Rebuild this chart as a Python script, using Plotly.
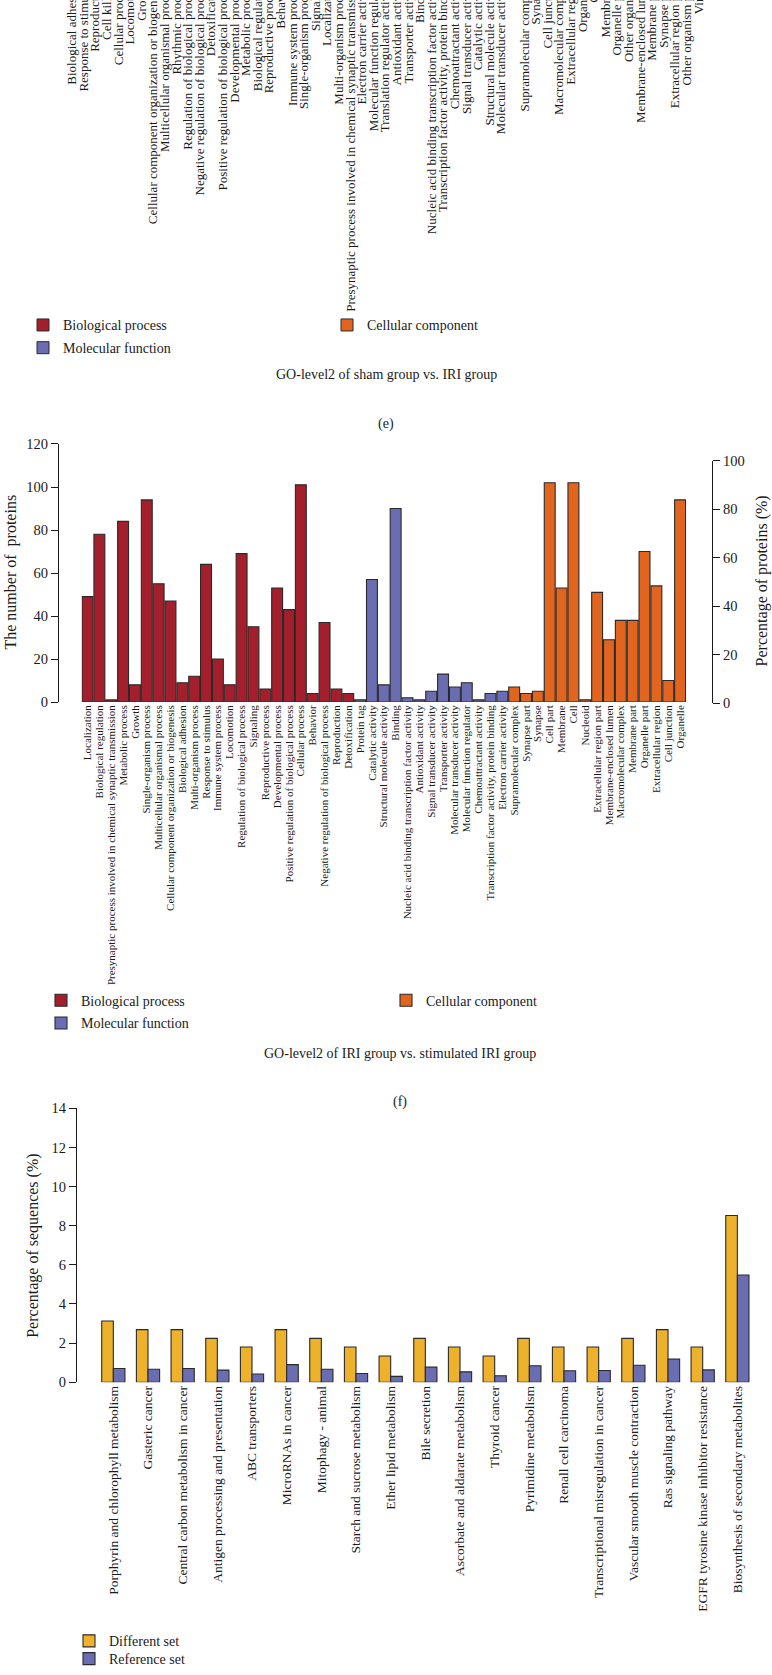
import plotly.graph_objects as go

FIG_W, FIG_H = 772, 1675


def py(y):
    return 1 - y / FIG_H


def pxx(x):
    return x / FIG_W


# ---------------- (e) GO-level2 of sham group vs. IRI group (only labels visible) ----------------
top_categories = [
    "Biological adhesion", "Response to stimulus", "Reproduction", "Cell killing",
    "Cellular process", "Locomotion", "Growth",
    "Cellular component organization or biogenesis", "Multicellular organismal process",
    "Rhythmic process", "Regulation of biological process",
    "Negative regulation of biological process", "Detoxification",
    "Positive regulation of biological process", "Developmental process",
    "Metabolic process", "Biological regulation", "Reproductive process", "Behavior",
    "Immune system process", "Single-organism process", "Signaling", "Localization",
    "Multi-organism process",
    "Presynaptic process involved in chemical synaptic transmission",
    "Electron carrier activity", "Molecular function regulator",
    "Translation regulator activity", "Antioxidant activity", "Transporter activity",
    "Binding", "Nucleic acid binding transcription factor activity",
    "Transcription factor activity, protein binding", "Chemoattractant activity",
    "Signal transducer activity", "Catalytic activity", "Structural molecule activity",
    "Molecular transducer activity", "",
    "Supramolecular complex", "Synapse", "Cell junction", "Macromolecular complex",
    "Extracellular region", "Organelle", "Cell", "Membrane", "Organelle part",
    "Other organism", "Membrane-enclosed lumen", "Membrane part", "Synapse part",
    "Extracellular region part", "Other organism part", "Virion",
]

# ---------------- (f) GO-level2 of IRI group vs. stimulated IRI group ----------------
bp_terms = [
    "Localization", "Biological regulation",
    "Presynaptic process involved in chemical synaptic transmission",
    "Metabolic process", "Growth", "Single-organism process",
    "Multicellular organismal process", "Cellular component organization or biogenesis",
    "Biological adhesion", "Multi-organism process", "Response to stimulus",
    "Immune system process", "Locomotion", "Regulation of biological process",
    "Signaling", "Reproductive process", "Developmental process",
    "Positive regulation of biological process", "Cellular process", "Behavior",
    "Negative regulation of biological process", "Reproduction", "Detoxification",
]
bp_counts = [49, 78, 1, 84, 8, 94, 55, 47, 9, 12, 64, 20, 8, 69, 35, 6, 53, 43, 101, 4, 37, 6, 4]

mf_terms = [
    "Protein tag", "Catalytic activity", "Structural molecule activity", "Binding",
    "Nucleic acid binding transcription factor activity", "Antioxidant activity",
    "Signal transducer activity", "Transporter activity", "Molecular transducer activity",
    "Molecular function regulator", "Chemoattractant activity",
    "Transcription factor activity, protein binding", "Electron carrier activity",
]
mf_counts = [1, 57, 8, 90, 2, 1, 5, 13, 7, 9, 1, 4, 5]

cc_terms = [
    "Supramolecular complex", "Synapse part", "Synapse", "Cell part", "Membrane", "Cell",
    "Nucleoid", "Extracellular region part", "Membrane-enclosed lumen",
    "Macromolecular complex", "Membrane part", "Organelle part", "Extracellular region",
    "Cell junction", "Organelle",
]
cc_counts = [7, 4, 5, 102, 53, 102, 1, 51, 29, 38, 38, 70, 54, 10, 94]

mid_order = bp_terms + mf_terms + cc_terms

# ---------------- KEGG pathways ----------------
pathways = [
    "Porphyrin and chlorophyll metabolism", "Gasteric cancer",
    "Central carbon metabolism in cancer", "Antigen processing and presentation",
    "ABC transporters", "MicroRNAs in cancer", "Mitophagy - animal",
    "Starch and sucrose metabolism", "Ether lipid metabolism", "Bile secretion",
    "Ascorbate and aldarate metabolism", "Thyroid cancer", "Pyrimidine metabolism",
    "Renall cell carcinoma", "Transcriptional misregulation in cancer",
    "Vascular smooth muscle contraction", "Ras signaling pathway",
    "EGFR tyrosine kinase inhibitor resistance", "Biosynthesis of secondary metabolites",
]
different_set = [3.13, 2.69, 2.69, 2.24, 1.8, 2.69, 2.24, 1.8, 1.34, 2.24, 1.8, 1.34,
                 2.24, 1.8, 1.8, 2.24, 2.69, 1.8, 8.52]
reference_set = [0.7, 0.66, 0.7, 0.62, 0.42, 0.9, 0.66, 0.45, 0.3, 0.77, 0.53, 0.33,
                 0.84, 0.59, 0.6, 0.87, 1.18, 0.63, 5.48]

BP_COL = "#A41F2C"
MF_COL = "#6A6DB1"
CC_COL = "#E2651F"
YEL_COL = "#EDB12C"
EDGE = "#2a2a2a"
TXT = "#1a1a1a"
FONT = "Liberation Serif"

fig = go.Figure()

# legend (e) entries (the bars of panel (e) lie outside the visible crop)
for name, col, lg in [("Biological process", BP_COL, "legend"),
                      ("Cellular component", CC_COL, "legend"),
                      ("Molecular function", MF_COL, "legend4")]:
    fig.add_trace(go.Scatter(x=[None], y=[None], name=name, mode="markers",
                             xaxis="x", yaxis="y", legend=lg, hoverinfo="skip",
                             marker=dict(symbol="square", size=12, color=col,
                                         line=dict(color=EDGE, width=1))))

# panel (f) bars
for name, terms, vals, col, lg in [
        ("Biological process", bp_terms, bp_counts, BP_COL, "legend2"),
        ("Cellular component", cc_terms, cc_counts, CC_COL, "legend2"),
        ("Molecular function", mf_terms, mf_counts, MF_COL, "legend5")]:
    fig.add_trace(go.Bar(x=terms, y=vals, name=name, xaxis="x2", yaxis="y2",
                         legend=lg, offsetgroup="go", width=0.92,
                         marker=dict(color=col, line=dict(color=EDGE, width=1.1))))

# right axis holder (percentage scale)
fig.add_trace(go.Scatter(x=[None], y=[None], xaxis="x3", yaxis="y3", showlegend=False,
                         hoverinfo="skip", mode="markers"))

# KEGG bars
fig.add_trace(go.Bar(x=pathways, y=different_set, name="Different set", xaxis="x4",
                     yaxis="y4", legend="legend3",
                     marker=dict(color=YEL_COL, line=dict(color=EDGE, width=1.1))))
fig.add_trace(go.Bar(x=pathways, y=reference_set, name="Reference set", xaxis="x4",
                     yaxis="y4", legend="legend6",
                     marker=dict(color=MF_COL, line=dict(color=EDGE, width=1.1))))

yax_common = dict(showgrid=False, zeroline=False, ticks="outside", ticklen=7,
                  tickwidth=1.2, tickcolor=TXT, showline=True, linewidth=1.2,
                  linecolor=TXT, tickfont=dict(size=14.5, color=TXT, family=FONT))
xcat_common = dict(showgrid=False, zeroline=False, ticks="", showline=False,
                   tickangle=-90, automargin=False)


def leg(x, y, width=None, size=14):
    d = dict(orientation="h", x=pxx(x), y=py(y), xanchor="left", yanchor="middle",
             traceorder="normal", font=dict(size=size, color=TXT),
             bgcolor="rgba(0,0,0,0)")
    if width:
        d.update(entrywidth=width, entrywidthmode="pixels")
    return d


step_top = 11.6
n_top = len(top_categories)
fig.update_layout(
    width=FIG_W, height=FIG_H,
    margin=dict(l=0, r=0, t=0, b=0),
    paper_bgcolor="white", plot_bgcolor="rgba(0,0,0,0)",
    font=dict(family=FONT, color=TXT),
    barmode="group", bargap=0.33, bargroupgap=0.0,
    xaxis=dict(domain=[pxx(72 - step_top / 2), pxx(72 + (n_top - 0.5) * step_top)],
               range=[-0.5, n_top - 0.5], tickmode="array",
               tickvals=list(range(n_top)), ticktext=top_categories,
               tickfont=dict(size=13, color=TXT), ticklabelstandoff=-32,
               anchor="y", **xcat_common),
    yaxis=dict(domain=[py(1.5), 1], range=[0, 1], visible=False, anchor="x"),
    xaxis2=dict(domain=[pxx(81.6), pxx(686)], type="category", categoryorder="array",
                categoryarray=mid_order, tickmode="linear", tick0=0, dtick=1,
                tickfont=dict(size=11, color=TXT), anchor="y2", **xcat_common),
    yaxis2=dict(domain=[py(702), py(441)], range=[0, 120], dtick=20, anchor="free",
                position=pxx(58), **yax_common),
    xaxis3=dict(domain=[pxx(81.6), pxx(686)], range=[0, 1], visible=False, anchor="y3"),
    yaxis3=dict(domain=[py(703), py(458)], range=[0, 100], dtick=20, anchor="free",
                position=pxx(712), side="right", **yax_common),
    xaxis4=dict(domain=[pxx(96), pxx(754.7)], type="category", categoryorder="array",
                categoryarray=pathways, tickmode="linear", tick0=0, dtick=1,
                tickfont=dict(size=13.5, color=TXT), anchor="y4", **xcat_common),
    yaxis4=dict(domain=[py(1390), py(1113)], range=[0, 14], dtick=2, anchor="free",
                position=pxx(76), **yax_common),
    legend=leg(23, 321, 259),
    legend4=leg(23, 344),
    legend2=leg(41, 1004, 300),
    legend5=leg(41, 1027),
    legend3=leg(69, 1652),
    legend6=leg(69, 1670),
    showlegend=True,
)

annos = [
    ("GO-level2 of sham group vs. IRI group", 386, 371, 0, 14),
    ("(e)", 386, 421, 0, 14),
    ("GO-level2 of IRI group vs. stimulated IRI group", 400, 1058, 0, 14),
    ("(f)", 400, 1107, 0, 14),
    ("The number of  proteins", 11, 571, -90, 16),
    ("Percentage of proteins (%)", 762, 580, -90, 16),
    ("Percentage of sequences (%)", 33, 1252, -90, 16),
]
for text, x, y, ang, size in annos:
    fig.add_annotation(text=text, x=pxx(x), y=py(y), xref="paper", yref="paper",
                       showarrow=False, textangle=ang, xanchor="center", yanchor="middle",
                       font=dict(size=size, color=TXT, family=FONT))

fig.write_html("out.html", config={"displayModeBar": False},
               post_script="document.body.style.margin='0px';")
